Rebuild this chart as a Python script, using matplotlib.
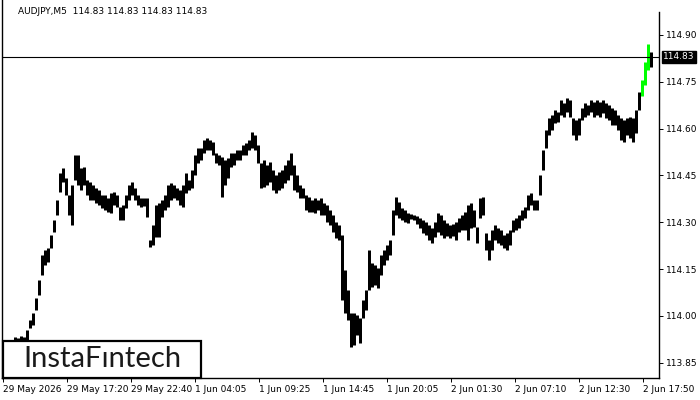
import numpy as np
import matplotlib
matplotlib.use("Agg")
from matplotlib import pyplot as plt
from matplotlib.patches import Rectangle
import matplotlib.transforms as mtransforms

# AUDJPY M5 chart
symbol = "AUDJPY,M5"
last_ohlc = [114.83, 114.83, 114.83, 114.83]
last_price = 114.83

# one entry = 3 M5 bars (high / low of that span)
highs = [113.913, 113.916, 113.919, 113.922, 113.932, 113.929, 113.935, 113.932, 113.954, 113.986,
         114.009, 114.057, 114.115, 114.195, 114.211, 114.217, 114.259, 114.307, 114.372, 114.458,
         114.474, 114.442, 114.388, 114.420, 114.516, 114.516, 114.474, 114.477, 114.436, 114.429,
         114.420, 114.410, 114.404, 114.388, 114.388, 114.378, 114.394, 114.397, 114.388, 114.349,
         114.355, 114.388, 114.420, 114.429, 114.410, 114.388, 114.378, 114.378, 114.378, 114.243,
         114.291, 114.355, 114.362, 114.372, 114.388, 114.420, 114.426, 114.420, 114.410, 114.404,
         114.420, 114.458, 114.436, 114.468, 114.516, 114.538, 114.538, 114.564, 114.570, 114.564,
         114.557, 114.522, 114.516, 114.509, 114.500, 114.506, 114.522, 114.522, 114.532, 114.532,
         114.548, 114.554, 114.564, 114.589, 114.580, 114.548, 114.490, 114.500, 114.484, 114.493,
         114.468, 114.452, 114.461, 114.468, 114.484, 114.500, 114.522, 114.484, 114.452, 114.420,
         114.410, 114.388, 114.381, 114.372, 114.378, 114.372, 114.378, 114.362, 114.355, 114.339,
         114.323, 114.301, 114.291, 114.259, 114.147, 114.083, 114.009, 114.009, 114.002, 113.993,
         114.051, 114.083, 114.211, 114.169, 114.163, 114.153, 114.195, 114.211, 114.227, 114.243,
         114.339, 114.381, 114.365, 114.346, 114.339, 114.330, 114.326, 114.323, 114.320, 114.313,
         114.307, 114.301, 114.291, 114.282, 114.301, 114.330, 114.323, 114.307, 114.298, 114.291,
         114.294, 114.301, 114.313, 114.323, 114.333, 114.355, 114.362, 114.339, 114.285, 114.378,
         114.381, 114.266, 114.243, 114.275, 114.291, 114.282, 114.275, 114.259, 114.266, 114.275,
         114.307, 114.313, 114.323, 114.339, 114.349, 114.388, 114.394, 114.372, 114.372, 114.452,
         114.532, 114.596, 114.634, 114.644, 114.660, 114.653, 114.692, 114.682, 114.698, 114.692,
         114.634, 114.628, 114.634, 114.666, 114.682, 114.676, 114.692, 114.685, 114.692, 114.685,
         114.692, 114.682, 114.676, 114.666, 114.660, 114.644, 114.634, 114.628, 114.634, 114.637,
         114.634, 114.660, 114.717, 114.756, 114.813, 114.871, 114.845]
lows = [113.890, 113.890, 113.897, 113.903, 113.913, 113.913, 113.916, 113.916, 113.922, 113.961,
        113.970, 114.019, 114.067, 114.131, 114.163, 114.173, 114.217, 114.269, 114.323, 114.397,
        114.429, 114.388, 114.323, 114.291, 114.436, 114.420, 114.404, 114.420, 114.388, 114.372,
        114.372, 114.362, 114.355, 114.346, 114.339, 114.333, 114.330, 114.355, 114.349, 114.307,
        114.307, 114.346, 114.372, 114.388, 114.372, 114.355, 114.349, 114.352, 114.317, 114.221,
        114.227, 114.253, 114.253, 114.317, 114.339, 114.349, 114.372, 114.378, 114.372, 114.355,
        114.349, 114.394, 114.404, 114.410, 114.452, 114.490, 114.500, 114.522, 114.532, 114.532,
        114.516, 114.490, 114.484, 114.381, 114.420, 114.442, 114.477, 114.484, 114.500, 114.500,
        114.516, 114.516, 114.532, 114.538, 114.532, 114.490, 114.410, 114.413, 114.420, 114.429,
        114.404, 114.394, 114.404, 114.410, 114.426, 114.436, 114.452, 114.404, 114.397, 114.378,
        114.378, 114.339, 114.333, 114.333, 114.330, 114.339, 114.323, 114.323, 114.301, 114.291,
        114.269, 114.249, 114.243, 114.051, 114.009, 113.986, 113.900, 113.906, 113.938, 113.913,
        113.993, 114.019, 114.083, 114.092, 114.099, 114.089, 114.131, 114.163, 114.179, 114.195,
        114.259, 114.323, 114.313, 114.307, 114.301, 114.298, 114.310, 114.307, 114.294, 114.282,
        114.266, 114.259, 114.243, 114.233, 114.253, 114.269, 114.259, 114.249, 114.256, 114.249,
        114.256, 114.243, 114.269, 114.275, 114.275, 114.243, 114.282, 114.285, 114.233, 114.313,
        114.323, 114.211, 114.179, 114.211, 114.243, 114.233, 114.227, 114.217, 114.211, 114.227,
        114.269, 114.275, 114.282, 114.307, 114.313, 114.339, 114.355, 114.339, 114.339, 114.388,
        114.468, 114.538, 114.580, 114.596, 114.618, 114.621, 114.644, 114.637, 114.653, 114.637,
        114.580, 114.564, 114.580, 114.628, 114.637, 114.644, 114.653, 114.637, 114.644, 114.637,
        114.650, 114.634, 114.628, 114.612, 114.612, 114.596, 114.564, 114.557, 114.580, 114.570,
        114.557, 114.586, 114.660, 114.704, 114.740, 114.788, 114.797]
green_bars = [213, 214, 215]

time_labels = ["29 May 2026", "29 May 17:20", "29 May 22:40", "1 Jun 04:05", "1 Jun 09:25",
               "1 Jun 14:45", "1 Jun 20:05", "2 Jun 01:30", "2 Jun 07:10", "2 Jun 12:30",
               "2 Jun 17:50"]
price_ticks = [113.85, 114.00, 114.15, 114.30, 114.45, 114.60, 114.75, 114.90]

W, H = 700, 400
fig = plt.figure(figsize=(W / 100, H / 100), dpi=100)
ax = fig.add_axes([2 / W, 22 / H, 657 / W, 378 / H])

# bars: x in M5 bar units, each entry spans 3 bars (3 px wide, touching)
xs = np.arange(len(highs)) * 3
colors = ["#00ff00" if i in green_bars else "black" for i in range(len(highs))]
ax.vlines(xs, lows, highs, colors=colors, linewidth=2.16)

# current price line
ax.axhline(last_price, color="black", linewidth=0.8)

ax.set_xlim(-1, 656)
ax.set_ylim(113.801, 115.012)

# time axis (label every 64 bars, left aligned)
ax.set_xticks(np.arange(len(time_labels)) * 64)
ax.set_xticklabels(time_labels, ha="left", fontsize=6.5)
ax.tick_params(axis="x", direction="out", length=3, width=0.7, pad=2)

# price axis on the right
ax.yaxis.tick_right()
ax.set_yticks(price_ticks)
ax.set_yticklabels([f"{t:.2f}" for t in price_ticks], fontsize=6.5)
ax.tick_params(axis="y", direction="out", length=3, width=0.7, pad=2)

for side in ["left", "right", "bottom"]:
    ax.spines[side].set_linewidth(1.0)
ax.spines["top"].set_visible(False)
ax.spines["right"].set_bounds(113.801, 114.974)

# price label box
trans = mtransforms.blended_transform_factory(ax.transAxes, ax.transData)
ax.text(1.0 + 4 / 657, last_price, f"{last_price:.2f}", transform=trans, ha="left", va="center",
        fontsize=6.5, color="white", bbox=dict(boxstyle="square,pad=0.15", fc="black", ec="black"),
        clip_on=False)

# header text
fig.text(18 / W, 1 - 11 / H, symbol + "  " + " ".join(f"{v:.2f}" for v in last_ohlc),
         fontsize=6.5, ha="left", va="center")

# logo box
ax.add_patch(Rectangle((3 / W, 22 / H), 198 / W, 37 / H, transform=fig.transFigure,
                       facecolor="white", edgecolor="black", linewidth=1.6, zorder=5,
                       clip_on=False))
fig.text(102 / W, 1 - 359 / H, "InstaFıntech", fontsize=21, family="Lato",
         color="#1a1a1a", ha="center", va="center", zorder=6)

plt.savefig("out.png", dpi=100)
